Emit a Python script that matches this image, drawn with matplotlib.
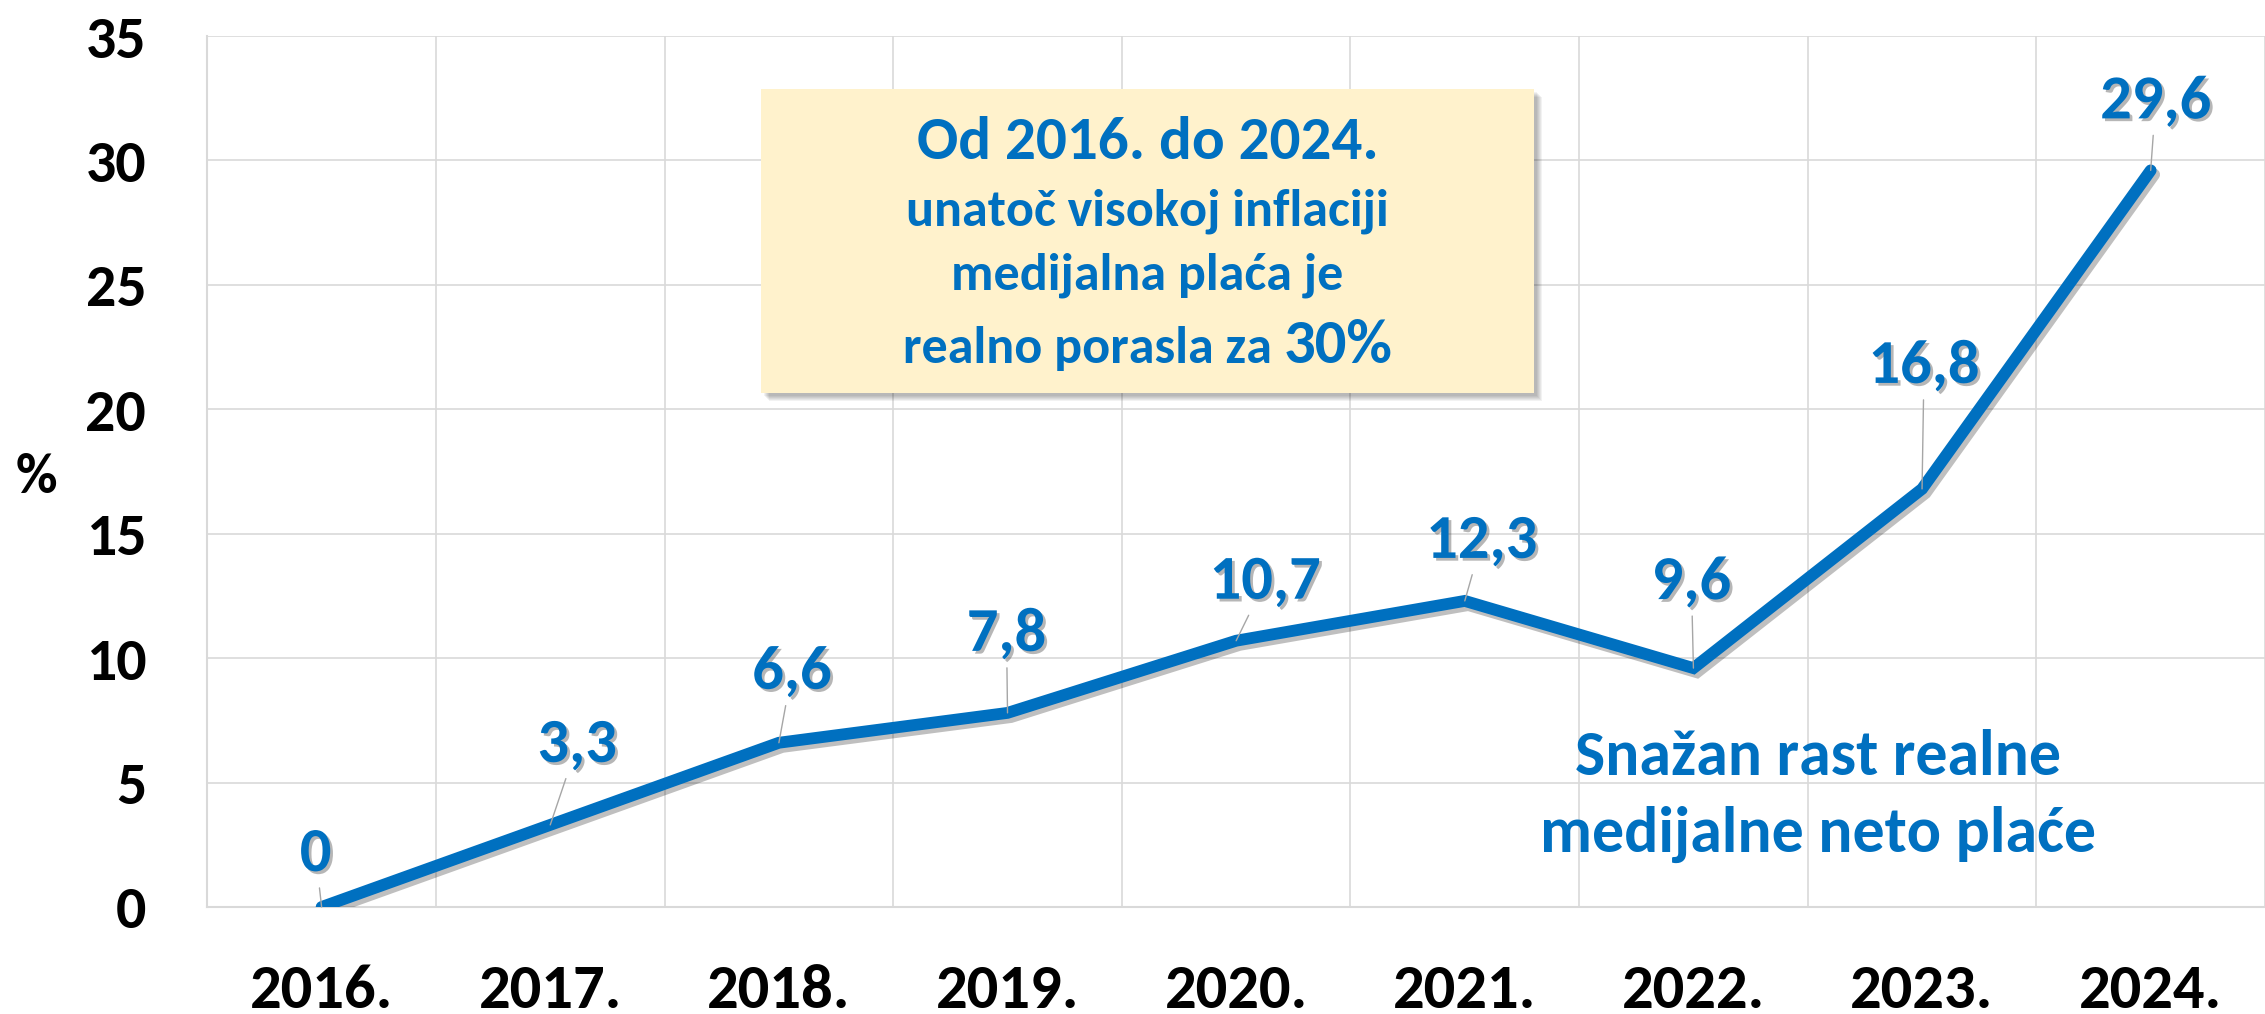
import matplotlib
matplotlib.use("Agg")
import matplotlib.pyplot as plt
import matplotlib.patheffects as pe
from matplotlib.patches import Rectangle
import numpy as np

years = ["2016.", "2017.", "2018.", "2019.", "2020.", "2021.", "2022.", "2023.", "2024."]
growth = [0, 3.3, 6.6, 7.8, 10.7, 12.3, 9.6, 16.8, 29.6]
y_ticks = [0, 5, 10, 15, 20, 25, 30, 35]

box_lines = ["Od 2016. do 2024.", "unatoč visokoj inflaciji", "medijalna plaća je", "realno porasla za ", "30%"]
note_lines = ["Snažan rast realne", "medijalne neto plaće"]

BLUE = "#0070C0"
GRID = "#D9D9D9"
W, H = 2265, 1014

# Carlito = metric clone of Calibri
plt.rcParams["font.family"] = ["Carlito", "Lato", "DejaVu Sans"]

fig = plt.figure(figsize=(W / 100, H / 100), dpi=100)
ax = fig.add_axes([207.3 / W, (H - 907) / H, 1 - 207.3 / W, (907 - 36) / H])

x = np.arange(len(years))
ax.plot(x, growth, color=BLUE, lw=8.5, solid_capstyle="round", solid_joinstyle="miter", zorder=3,
        path_effects=[pe.SimpleLineShadow(offset=(2.5, -3), shadow_color="black", alpha=0.25), pe.Normal()])

# data labels, moved by hand like in the original, with grey leader lines
label_offsets = [(-6, 56), (27, 83), (13, 74), (-1, 82), (29, 62), (17, 63), (-2, 89), (2, 126), (5, 72)]
for i, v in enumerate(growth):
    dx, dy = label_offsets[i]
    ax.annotate(f"{v:g}".replace(".", ","), (x[i], v), xytext=(dx, dy - 20), textcoords="offset pixels",
                ha="center", va="baseline", fontsize=45, fontweight="bold", color=BLUE, zorder=5,
                path_effects=[pe.withSimplePatchShadow(offset=(2, -2), shadow_rgbFace="#303030", alpha=0.35)],
                arrowprops=dict(arrowstyle="-", color="#A6A6A6", lw=1.0, shrinkA=3, shrinkB=0))

ax.set_xlim(-0.5, -0.5 + (W - 207.3) / 230.0)
ax.set_ylim(0, 35)
ax.set_xticks(x)
ax.set_xticklabels(years)
ax.set_xticks(np.arange(-0.5, len(years), 1), minor=True)
ax.set_yticks(y_ticks)
ax.grid(which="minor", axis="x", color=GRID, lw=1.2)
ax.grid(which="major", axis="y", color=GRID, lw=1.2)
ax.set_axisbelow(True)
ax.tick_params(axis="both", which="both", length=0)
ax.tick_params(axis="x", pad=41, labelsize=45)
ax.tick_params(axis="y", pad=44, labelsize=43)
for lab in ax.get_xticklabels() + ax.get_yticklabels():
    lab.set_fontweight("bold")
for s in ["top", "right"]:
    ax.spines[s].set_visible(False)
for s in ["left", "bottom"]:
    ax.spines[s].set_color(GRID)
    ax.spines[s].set_linewidth(1.5)

fig.text(36 / W, 1 - 477 / H, "%", ha="center", va="center", fontsize=41, fontweight="bold")

# yellow callout box with soft shadow
bx0, by0, bx1, by1 = 761, 89, 1534, 393
for k in range(6):
    fig.add_artist(Rectangle(((bx0 + 3 + k) / W, 1 - (by1 + 3 + k) / H), (bx1 - bx0) / W, (by1 - by0) / H,
                             transform=fig.transFigure, facecolor="black", edgecolor="none", alpha=0.05, zorder=1))
fig.add_artist(Rectangle((bx0 / W, 1 - by1 / H), (bx1 - bx0) / W, (by1 - by0) / H,
                         transform=fig.transFigure, facecolor="#FFF2CC", edgecolor="none", zorder=2))

cx = (bx0 + bx1) / 2 / W
txt = dict(va="baseline", fontweight="bold", color=BLUE, zorder=3)
fig.text(cx, 1 - 159 / H, box_lines[0], ha="center", fontsize=44, **txt)
fig.text(cx, 1 - 226 / H, box_lines[1], ha="center", fontsize=37.5, **txt)
fig.text(cx, 1 - 290 / H, box_lines[2], ha="center", fontsize=37.5, **txt)
t4a = fig.text(0, 1 - 363 / H, box_lines[3], ha="left", fontsize=37.5, **txt)
t4b = fig.text(0, 1 - 363 / H, box_lines[4], ha="left", fontsize=45, **txt)
r = fig.canvas.get_renderer()
wa = t4a.get_window_extent(r).width
wb = t4b.get_window_extent(r).width
left = (bx0 + bx1) / 2 - (wa + wb) / 2
t4a.set_x(left / W)
t4b.set_x((left + wa) / W)

fig.text(1818 / W, 1 - 775 / H, note_lines[0], ha="center", fontsize=46, **txt)
fig.text(1818 / W, 1 - 852 / H, note_lines[1], ha="center", fontsize=46, **txt)

fig.savefig("out.png", dpi=100)
